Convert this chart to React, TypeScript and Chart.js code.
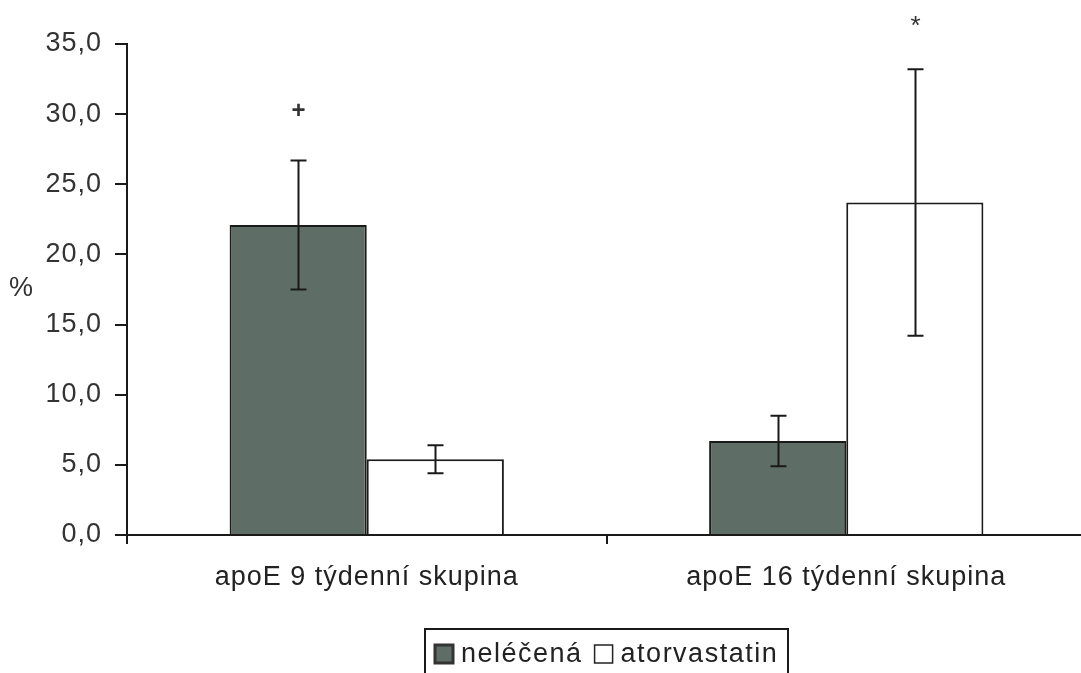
import React, { useEffect, useRef } from "react";
import { Chart, registerables } from "chart.js";

Chart.register(...registerables);

// ---- data ----
const categories = ["apoE 9 týdenní skupina", "apoE 16 týdenní skupina"];
const seriesNames = ["neléčená", "atorvastatin"];
const untreated = [22.1, 6.7];
const untreatedErr = [4.6, 1.8];
const atorva = [5.4, 23.7];
const atorvaErr = [1.0, 9.5];
const untreatedMarks = ["+", ""];
const untreatedMarkAt = [30.2, 0];
const atorvaMarks = ["", "*"];
const atorvaMarkAt = [0, 36.6];
const yMin = 0;
const yMax = 35;
const yStep = 5;
const axisTitle = "%";

const FONT = "'Liberation Sans', Arial, sans-serif";
const DARK = "#5f6d67";
const INK = "#1a1a1a";
const SPACING = "1px";

const errors = [untreatedErr, atorvaErr];
const marks = [untreatedMarks, atorvaMarks];
const markAt = [untreatedMarkAt, atorvaMarkAt];

const spacingPlugin = {
  id: "spacing",
  beforeUpdate(chart: any) {
    chart.ctx.letterSpacing = SPACING;
  },
  beforeLayout(chart: any) {
    chart.ctx.letterSpacing = SPACING;
  },
  beforeDraw(chart: any) {
    chart.ctx.letterSpacing = SPACING;
  },
};

const extrasPlugin = {
  id: "extras",
  afterDatasetsDraw(chart: any) {
    const ctx = chart.ctx;
    const y = chart.scales.y;
    ctx.save();
    ctx.strokeStyle = INK;
    ctx.lineWidth = 2;
    chart.data.datasets.forEach((ds: any, i: number) => {
      const meta = chart.getDatasetMeta(i);
      meta.data.forEach((el: any, j: number) => {
        const v = ds.data[j];
        const e = errors[i][j];
        const x = Math.round(el.x) + 0.5;
        const top = y.getPixelForValue(v + e);
        const bot = y.getPixelForValue(v - e);
        ctx.beginPath();
        ctx.moveTo(x, top);
        ctx.lineTo(x, bot);
        ctx.moveTo(x - 8, top);
        ctx.lineTo(x + 8, top);
        ctx.moveTo(x - 8, bot);
        ctx.lineTo(x + 8, bot);
        ctx.stroke();
        const m = marks[i][j];
        if (m) {
          ctx.fillStyle = "#333";
          ctx.font = m === "+" ? `bold 24px ${FONT}` : `26px ${FONT}`;
          ctx.textAlign = "center";
          ctx.textBaseline = "middle";
          ctx.letterSpacing = "0px";
          ctx.fillText(m, x, y.getPixelForValue(markAt[i][j]) + (m === "*" ? 5 : 0));
        }
      });
    });
    ctx.restore();
  },
  afterDraw(chart: any) {
    const ctx = chart.ctx;
    const y = chart.scales.y;
    const area = chart.chartArea;
    ctx.save();
    ctx.letterSpacing = SPACING;
    // axis title
    ctx.fillStyle = "#333";
    ctx.font = `27px ${FONT}`;
    ctx.textAlign = "left";
    ctx.textBaseline = "middle";
    ctx.fillText(axisTitle, 9, y.getPixelForValue(17.6));

    // legend
    ctx.letterSpacing = "1.5px";
    ctx.font = `27px ${FONT}`;
    const box = 18;
    const gapBoxText = 8;
    const gapItems = 12;
    const widths = seriesNames.map((n) => ctx.measureText(n).width);
    const inner =
      widths.reduce((a, b) => a + b, 0) + seriesNames.length * (box + gapBoxText) + gapItems;
    const padX = 10;
    const center = (area.left + area.right) / 2;
    const left = Math.round(center - inner / 2 - padX);
    const right = Math.round(center + inner / 2 + padX);
    const top = 629;
    ctx.strokeStyle = INK;
    ctx.lineWidth = 2;
    ctx.beginPath();
    ctx.moveTo(left, 690);
    ctx.lineTo(left, top);
    ctx.lineTo(right, top);
    ctx.lineTo(right, 690);
    ctx.stroke();
    let x = left + padX;
    const cy = 654;
    seriesNames.forEach((n, i) => {
      const ds = chart.data.datasets[i];
      ctx.fillStyle = ds.backgroundColor;
      ctx.fillRect(x, cy - box / 2, box, box);
      ctx.lineWidth = i === 0 ? 3 : 1.5;
      ctx.strokeStyle = i === 0 ? "#333" : "#222";
      ctx.strokeRect(x, cy - box / 2, box, box);
      x += box + gapBoxText;
      ctx.fillStyle = "#222";
      ctx.fillText(n, x, cy + 1);
      x += widths[i] + gapItems;
    });
    ctx.restore();
  },
};

export default function App() {
  const ref = useRef<HTMLCanvasElement>(null);
  useEffect(() => {
    if (!ref.current) return;
    const chart = new Chart(ref.current, {
      type: "bar",
      data: {
        labels: categories,
        datasets: [
          {
            label: seriesNames[0],
            data: untreated,
            backgroundColor: DARK,
            borderColor: INK,
            borderWidth: 2,
            categoryPercentage: 0.572,
            barPercentage: 1.0,
          },
          {
            label: seriesNames[1],
            data: atorva,
            backgroundColor: "#ffffff",
            borderColor: INK,
            borderWidth: 2,
            categoryPercentage: 0.572,
            barPercentage: 1.0,
          },
        ],
      },
      options: {
        responsive: false,
        devicePixelRatio: 1,
        animation: false,
        layout: { padding: { left: 0, right: 4, top: 44, bottom: 0 } },
        plugins: {
          legend: { display: false },
          tooltip: { enabled: false },
        },
        scales: {
          x: {
            offset: true,
            border: { color: INK, width: 2 },
            grid: {
              offset: true,
              drawOnChartArea: false,
              drawTicks: true,
              tickLength: 9,
              color: INK,
              lineWidth: 2,
            },
            ticks: {
              color: "#222",
              font: { family: FONT, size: 27 },
              padding: 17,
              maxRotation: 0,
            },
            afterFit(scale: any) {
              scale.height = 138;
            },
          },
          y: {
            min: yMin,
            max: yMax,
            border: { color: INK, width: 2 },
            grid: {
              drawOnChartArea: false,
              drawTicks: true,
              tickLength: 12,
              color: INK,
              lineWidth: 2,
            },
            ticks: {
              stepSize: yStep,
              color: "#333",
              font: { family: FONT, size: 27 },
              padding: 13,
              callback: (v: any) => Number(v).toFixed(1).replace(".", ","),
            },
            afterFit(scale: any) {
              scale.width = 127;
            },
          },
        },
      },
      plugins: [spacingPlugin, extrasPlugin],
    });
    return () => chart.destroy();
  }, []);
  return (
    <div
      style={{
        position: "fixed",
        left: 0,
        top: 0,
        width: 1081,
        height: 673,
        overflow: "hidden",
        background: "#fff",
      }}
    >
      <canvas
        ref={ref}
        width={1090}
        height={673}
        style={{ display: "block", width: 1090, height: 673 }}
      />
    </div>
  );
}
